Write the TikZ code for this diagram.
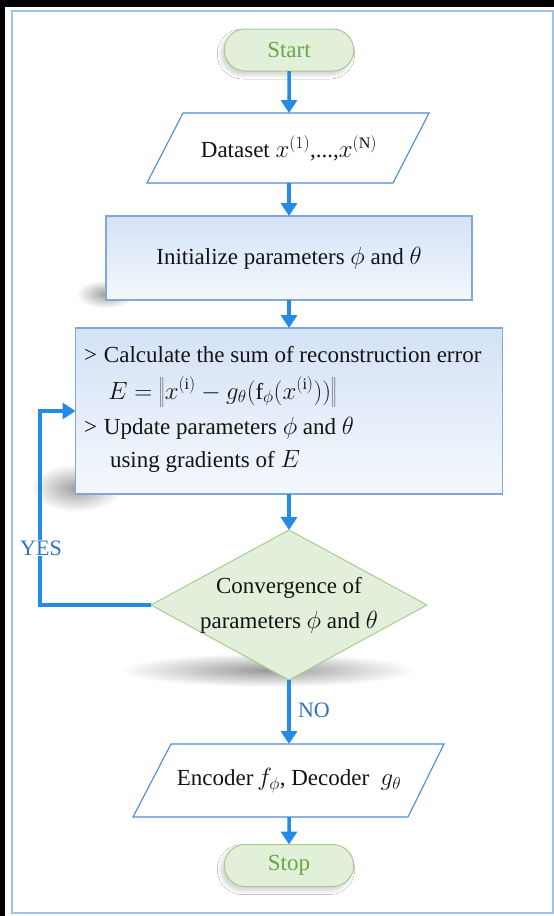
\documentclass[tikz,border=0pt]{standalone}
\usepackage{fontspec}
\setmainfont{Liberation Serif}
\usetikzlibrary{shapes.geometric,shapes.misc,arrows.meta,shadows.blur,calc}

\definecolor{flowblue}{RGB}{35,138,230}
\definecolor{boxedge}{RGB}{125,168,220}
\definecolor{paraedge}{RGB}{75,140,212}
\definecolor{termfill}{RGB}{226,240,218}
\definecolor{termedge}{RGB}{165,205,145}
\definecolor{termtext}{RGB}{104,168,72}
\definecolor{decfill}{RGB}{226,239,218}
\definecolor{labelblue}{RGB}{45,115,195}
\definecolor{frameblue}{RGB}{157,195,230}
\definecolor{ink}{RGB}{20,20,20}
\definecolor{procTop}{RGB}{212,226,246}
\definecolor{procBottom}{RGB}{244,248,253}

\begin{document}
\begin{tikzpicture}[x=1pt,y=-1pt,
  every node/.style={outer sep=0pt},
  font=\fontsize{23}{27}\selectfont,
  flow/.style={draw=flowblue, line width=3.5pt, -{Triangle[width=16pt,length=13pt]}},
  terminal/.style={rounded rectangle, draw=termedge, line width=1pt, fill=termfill,
    text=termtext, minimum width=136pt, minimum height=42pt,
    blur shadow={shadow xshift=-3pt, shadow yshift=-4pt, shadow opacity=18, shadow blur radius=4pt}},
  process/.style={rectangle, draw=boxedge, line width=1.3pt, top color=procTop,
    bottom color=procBottom, text=ink},
  iobox/.style={draw=paraedge, line width=1.1pt, fill=white},
  plain/.style={inner sep=0pt, text=ink},
  decision/.style={draw=termedge, line width=1pt, fill=decfill},
  softshadow/.style={inner color=black!38, outer color=white},
  answer/.style={text=labelblue, inner sep=1pt, font=\fontsize{22}{26}\selectfont}
]
\useasboundingbox (0,0) rectangle (554,916);

% page background and frame
\fill[black] (0,0) rectangle (554,916);
\fill[white] (5,7) rectangle (554,916);
\draw[frameblue, line width=1.5pt] (12,11) rectangle (553,913);

% start terminal
\node[terminal] (start) at (289,50) {Start};

% dataset input
\draw[iobox] (183,113) -- (429,113) -- (393,183) -- (147,183) -- cycle;
\node[plain, minimum width=246pt, minimum height=70pt] (data) at (289,148)
  {Dataset $x^{(1)}$,...,$x^{(\mathrm{N})}$};

% initialisation, with a soft shadow at its lower left corner
\shade[softshadow] (106,294) ellipse (30 and 14);
\node[process, minimum width=366pt, minimum height=84pt] (init) at (289,258)
  {Initialize parameters $\phi$ and $\theta$};

% training step
\shade[softshadow] (76,488) ellipse (46 and 24);
\node[process, minimum width=427pt, minimum height=166pt] (calc) at (289,411) {};
\node[plain, anchor=base west] (l1) at (84,362) {>\hspace{7pt}Calculate the sum of reconstruction error};
\node[plain, anchor=base west] (l2) at (108,399)
  {$E=\left\|\rule[-7pt]{0pt}{27pt}x^{(\mathrm{i})}-g_{\theta}(\mathrm{f}_{\phi}(x^{(\mathrm{i})}))\right\|$};
\node[plain, anchor=base west] (l3) at (84,434) {>\hspace{7pt}Update parameters $\phi$ and $\theta$};
\node[plain, anchor=base west] (l4) at (110,467) {using gradients of $E$};

% convergence test: diamond outline, with the text node spanning its corners
\shade[inner color=black!40, outer color=white] (268,670) ellipse (148 and 17);
\draw[decision] (289,530) -- (427,605) -- (289,680) -- (151,605) -- cycle;
\node[plain, minimum width=276pt, minimum height=150pt, align=center,
  font=\fontsize{23}{35}\selectfont] (conv) at (289,605)
  {Convergence of\\parameters $\phi$ and $\theta$};

% output
\draw[iobox] (171,744) -- (444,744) -- (408,817) -- (133,817) -- cycle;
\node[plain, minimum width=273pt, minimum height=73pt] (enc) at (289,780.5)
  {Encoder\,$f_{\phi}$, Decoder\ \ $g_{\theta}$};

% stop terminal
\node[terminal] (stop) at (289,865.5) {Stop};

% connectors
\draw[flow] (start) -- (data);
\draw[flow] (data) -- (init);
\draw[flow] (init) -- (calc);
\draw[flow] (calc) -- (conv.north);
\draw[flow] (conv.south) -- (enc);
\draw[flow] (enc) -- (stop);

\coordinate (turn) at (40,605);
\draw[flow] (conv.west) -- (turn) |- (calc.west);

\node[answer, fill=white] (yes) at (41,548) {YES};
\node[answer, anchor=west] (no) at (297,710) {NO};
\end{tikzpicture}
\end{document}
